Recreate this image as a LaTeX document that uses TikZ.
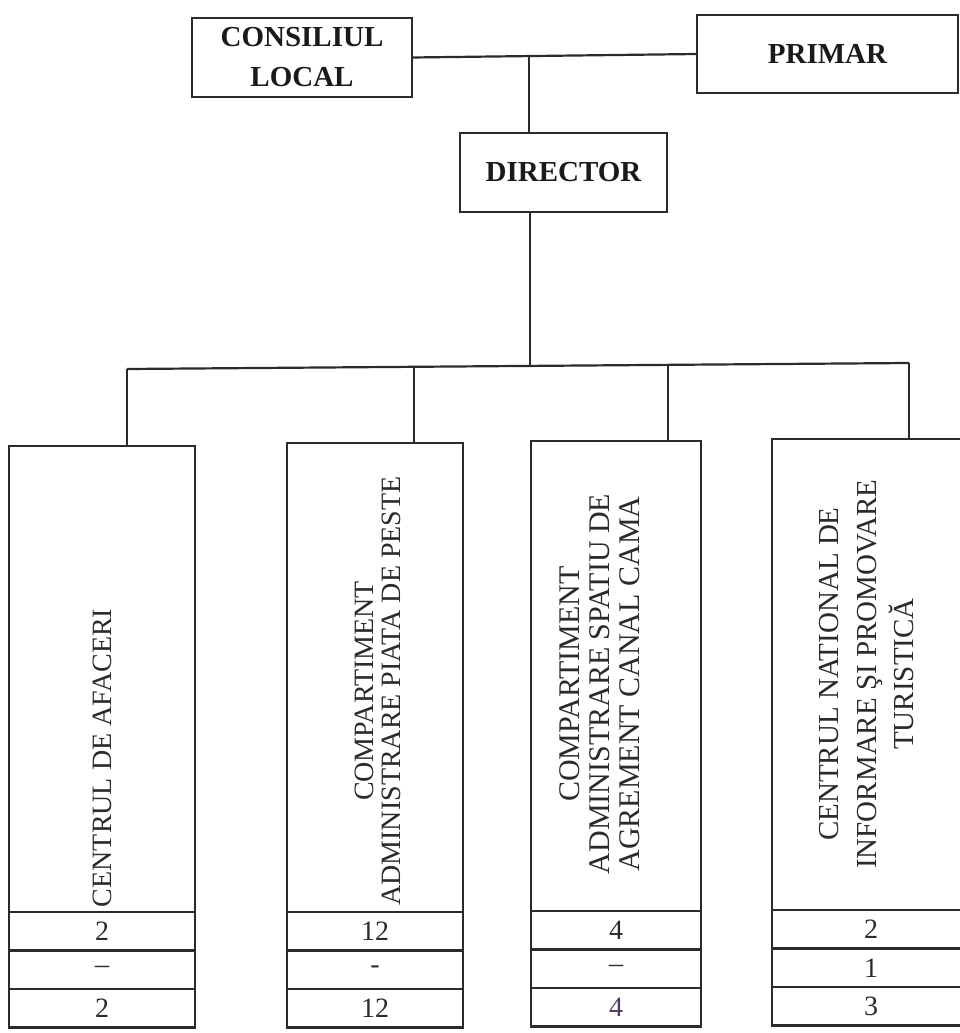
\documentclass[tikz,border=0pt]{standalone}
\usepackage{fontspec}
\setmainfont{Liberation Serif}
\usetikzlibrary{positioning}
\definecolor{c2b2b2b}{RGB}{43,43,43}
\definecolor{c1a1a1a}{RGB}{26,26,26}
\definecolor{c4e3f5e}{RGB}{78,63,94}

\begin{document}
\begin{tikzpicture}[y=1pt,x=1pt,yscale=-1, inner sep=0pt, outer sep=0pt,
  headbox/.style={draw=c2b2b2b,line width=2.2pt,anchor=north west,align=center,
    text=c1a1a1a,font=\fontsize{29}{40}\selectfont\bfseries},
  unitbox/.style={draw=c2b2b2b,line width=2.2pt,anchor=north west},
  cell/.style={draw=c2b2b2b,line width=2.2pt,minimum height=38.5pt,
    text=c2b2b2b,font=\fontsize{28}{28}\selectfont},
  vtext/.style={rotate=90,align=center,text=c2b2b2b}]
\useasboundingbox (0,0) rectangle (960,1033);

  % top level
  \node[headbox,minimum width=220pt,minimum height=79pt] (rect-cons)
    at (192,18) {CONSILIUL\\LOCAL};
  \node[headbox,minimum width=261pt,minimum height=78pt] (rect-prim)
    at (697,15) {PRIMAR};
  \node[headbox,minimum width=207pt,minimum height=79pt] (rect-dir)
    at (460,133) {DIRECTOR};
  \path[draw=c2b2b2b,line width=2.2pt] (rect-cons.east) -- (rect-prim.west);
  \coordinate (top) at (529,56);
  \path[draw=c2b2b2b,line width=2.2pt] (top) -- (top |- rect-dir.north);

  % units
  \node[unitbox,minimum width=186pt,minimum height=466pt] (unit1) at (9,446) {};
  \node[unitbox,minimum width=176pt,minimum height=469pt] (unit2) at (287,443) {};
  \node[unitbox,minimum width=170pt,minimum height=470pt] (unit3) at (531,441) {};
  \node[unitbox,minimum width=198pt,minimum height=471pt] (unit4) at (772,439) {};

  % bus
  \coordinate (hub) at (530,366);
  \coordinate (drop1) at (127,369);
  \coordinate (drop2) at (414,367);
  \coordinate (drop3) at (668,365);
  \coordinate (drop4) at (909,363);
  \path[draw=c2b2b2b,line width=2.2pt] (rect-dir.south -| hub) -- (hub);
  \path[draw=c2b2b2b,line width=2.2pt] (drop1) -- (drop4);
  \path[draw=c2b2b2b,line width=2.2pt] (drop1) -- (drop1 |- unit1.north);
  \path[draw=c2b2b2b,line width=2.2pt] (drop2) -- (drop2 |- unit2.north);
  \path[draw=c2b2b2b,line width=2.2pt] (drop3) -- (drop3 |- unit3.north);
  \path[draw=c2b2b2b,line width=2.2pt] (drop4) -- (drop4 |- unit4.north);

  % unit names
  \node[vtext,anchor=west,font=\fontsize{28}{28}\selectfont] (text-u1)
    at (102,907) {CENTRUL DE AFACERI};
  \node[vtext,font=\fontsize{28}{27}\selectfont] (text-u2)
    at (378,691) {COMPARTIMENT\\ADMINISTRARE PIATA DE PESTE};
  \node[vtext,font=\fontsize{30}{30}\selectfont] (text-u3)
    at (600,684) {COMPARTIMENT\\ADMINISTRARE SPATIU DE\\AGREMENT CANAL CAMA};
  \node[vtext,font=\fontsize{29}{37.5}\selectfont] (text-u4)
    at (867,674) {CENTRUL NATIONAL DE\\INFORMARE ŞI PROMOVARE\\TURISTICĂ};

  % staff cells
  \node[cell,minimum width=186pt,below=0pt of unit1] (unit1-a) {2};
  \node[cell,minimum width=186pt,below=0pt of unit1-a] (unit1-b) {–};
  \node[cell,minimum width=186pt,below=0pt of unit1-b] (unit1-c) {2};
  \node[cell,minimum width=176pt,below=0pt of unit2] (unit2-a) {12};
  \node[cell,minimum width=176pt,below=0pt of unit2-a] (unit2-b) {-};
  \node[cell,minimum width=176pt,below=0pt of unit2-b] (unit2-c) {12};
  \node[cell,minimum width=170pt,below=0pt of unit3] (unit3-a) {4};
  \node[cell,minimum width=170pt,below=0pt of unit3-a] (unit3-b) {–};
  \node[cell,minimum width=170pt,below=0pt of unit3-b,text=c4e3f5e] (unit3-c) {4};
  \node[cell,minimum width=198pt,below=0pt of unit4] (unit4-a) {2};
  \node[cell,minimum width=198pt,below=0pt of unit4-a] (unit4-b) {1};
  \node[cell,minimum width=198pt,below=0pt of unit4-b] (unit4-c) {3};
\end{tikzpicture}
\end{document}
